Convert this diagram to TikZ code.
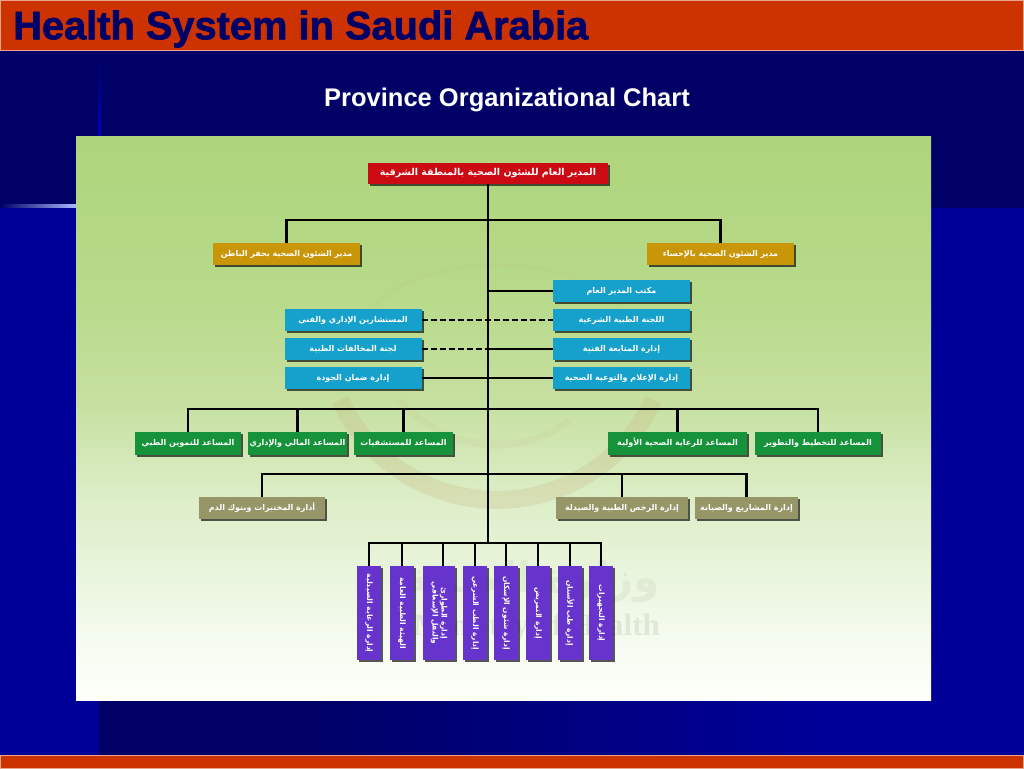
\documentclass[tikz,border=0pt]{standalone}
\usepackage{fontspec}
\setmainfont{Liberation Sans}
\newfontfamily\arabicfont[Script=Arabic]{DejaVu Sans}
\newfontfamily\markfont{Liberation Serif}
\newfontfamily\titlefont[BoldFeatures={FakeBold=1.5}]{Liberation Sans}
\TeXXeTstate=1
\usetikzlibrary{positioning, shadows}
\newcommand{\artext}[1]{\beginR #1\endR}

\definecolor{navydeep}{HTML}{000066}
\definecolor{navylight}{HTML}{000099}
\definecolor{glowblue}{HTML}{2F62F0}
\definecolor{glowend}{HTML}{A8B8FF}
\definecolor{barred}{HTML}{CC3300}
\definecolor{barline}{HTML}{E8A58A}
\definecolor{toprole}{HTML}{CC0A14}
\definecolor{goldrole}{HTML}{C89608}
\definecolor{bluerole}{HTML}{16A0CC}
\definecolor{greenrole}{HTML}{16933A}
\definecolor{olverole}{HTML}{969668}
\definecolor{purprole}{HTML}{6633CC}
\definecolor{emblem}{HTML}{C9B37F}
\definecolor{markgrey}{HTML}{C8D4BC}
\definecolor{panela}{HTML}{AED47C}
\definecolor{panelb}{HTML}{B8DA8A}
\definecolor{panelc}{HTML}{C6E0A0}
\definecolor{paneld}{HTML}{DDEEC8}
\definecolor{panele}{HTML}{F5FBF0}
\definecolor{panelf}{HTML}{FEFFFA}

\pgfdeclareverticalshading{greenfade}{100bp}{
  color(0bp)=(panelf);
  color(25bp)=(panelf);
  color(30.3bp)=(panele);
  color(42.7bp)=(paneld);
  color(51.5bp)=(panelc);
  color(60.5bp)=(panelb);
  color(75bp)=(panela);
  color(100bp)=(panela)}

\begin{document}
\begin{tikzpicture}[
  x=1pt, y=-1pt,
  box/.style={rectangle, text=white, inner sep=0pt, outer sep=0pt, align=center,
    font=\arabicfont\bfseries\fontsize{8}{9}\selectfont,
    drop shadow={shadow xshift=2pt, shadow yshift=-2pt, fill=black, opacity=.65}},
  flatbox/.style={box, text height=6pt, text depth=2pt},
  topbox/.style={flatbox, fill=toprole, minimum width=240pt, minimum height=21pt,
    font=\arabicfont\bfseries\fontsize{9.5}{11}\selectfont},
  goldbox/.style={flatbox, fill=goldrole, minimum width=147pt, minimum height=22pt},
  bluebox/.style={flatbox, fill=bluerole, minimum width=137pt, minimum height=22pt},
  greenbox/.style={flatbox, fill=greenrole, minimum height=23pt},
  olivebox/.style={flatbox, fill=olverole, minimum height=22pt},
  purplebox/.style={box, fill=purprole, minimum width=24pt, minimum height=94pt,
    font=\arabicfont\bfseries\fontsize{7.5}{9}\selectfont},
  link/.style={draw=black, line width=2.2pt},
  dashlink/.style={link, dash pattern=on 6pt off 3pt}
]
\useasboundingbox (0,0) rectangle (1024,768);

% === SLIDE BACKGROUND ===
\fill[navydeep] (0,0) rectangle (1024,768);
\fill[navylight] (0,208) rectangle (99,755);
\fill[navylight] (931,208) rectangle (1024,755);
\shade[left color=navydeep, right color=navylight] (300,700) rectangle (830,755);
\fill[navylight] (830,700) rectangle (1024,755);
\shade[left color=navydeep, middle color=glowblue, right color=glowend] (0,204.5) rectangle (76,207.5);
\shade[top color=navydeep, bottom color=blue!60!navydeep] (98,55) rectangle (100.5,136);
\draw[barline, fill=barred, line width=1pt] (0.5,0.5) rectangle (1023.5,51);
\draw[barline, fill=barred, line width=1pt] (0.5,755) rectangle (1023.5,768);

\node[anchor=west, inner sep=0pt, text=navydeep, font=\titlefont\bfseries\fontsize{39.8}{42}\selectfont] (title) at (13,29) {Health System in Saudi Arabia};
\node[text=white, inner sep=0pt, font=\bfseries\fontsize{25.5}{28}\selectfont] (subtitle) at (507,100) {Province Organizational Chart};

% === CHART PANEL ===
\fill[shading=greenfade] (76,136) rectangle (931,700);

% === WATERMARK ===
\draw[emblem, opacity=.25, line width=18pt] (340,400) arc[start angle=155, end angle=25, radius=173];
\draw[emblem, opacity=.1, line width=3pt] (372,310) .. controls (420,250) and (570,250) .. (625,310);
\draw[emblem, opacity=.1, line width=7pt] (400,400) .. controls (440,450) and (520,460) .. (570,420);
\node[anchor=east, inner sep=0pt, text=markgrey, opacity=.3, font=\arabicfont\bfseries\fontsize{42}{44}\selectfont] (markar) at (660,582) {\artext{وزارة الصحة}};
\node[anchor=east, inner sep=0pt, text=markgrey, opacity=.45, font=\markfont\bfseries\fontsize{31}{33}\selectfont] (markla) at (660,628) {Ministry of Health};

% === TOP LEVEL ===
\node[topbox] (top) at (488,173.5) {\artext{المدير العام للشئون الصحية بالمنطقة الشرقية}};
\node[goldbox] (goldleft) at (286.5,254) {\artext{مدير الشئون الصحية بحفر الباطن}};
\node[goldbox] (goldright) at (720.5,254) {\artext{مدير الشئون الصحية بالإحساء}};

% === STAFF OFFICES ===
\node[bluebox] (office) at (621.5,291) {\artext{مكتب المدير العام}};
\node[bluebox, below=7pt of office] (legal) {\artext{اللجنة الطبية الشرعية}};
\node[bluebox, below=7pt of legal] (followup) {\artext{إدارة المتابعة الفنية}};
\node[bluebox, below=7pt of followup] (media) {\artext{إدارة الإعلام والتوعية الصحية}};
\node[bluebox] (advisor) at (353,320) {\artext{المستشارين الإداري والفني}};
\node[bluebox, below=7pt of advisor] (violation) {\artext{لجنة المخالفات الطبية}};
\node[bluebox, below=7pt of violation] (quality) {\artext{إدارة ضمان الجودة}};

% === ASSISTANTS ===
\node[greenbox, minimum width=106pt] (supply) at (188,443.5) {\artext{المساعد للتموين الطبي}};
\node[greenbox, minimum width=99pt, right=7pt of supply] (finance) {\artext{المساعد المالي والإداري}};
\node[greenbox, minimum width=99pt, right=7pt of finance] (hospital) {\artext{المساعد للمستشفيات}};
\node[greenbox, minimum width=139pt] (primary) at (677.5,443.5) {\artext{المساعد للرعاية الصحية الأولية}};
\node[greenbox, minimum width=126pt, right=8pt of primary] (planning) {\artext{المساعد للتخطيط والتطوير}};

% === DEPARTMENTS ===
\node[olivebox, minimum width=126pt] (labs) at (262,508) {\artext{أدارة المختبرات وبنوك الدم}};
\node[olivebox, minimum width=132pt] (licence) at (622,508) {\artext{إدارة الرخص الطبية والصيدلة}};
\node[olivebox, minimum width=103pt, right=7pt of licence] (projects) {\artext{إدارة المشاريع والصيانة}};

% === VERTICAL BOXES ===
\node[purplebox] (pura) at (369,613) {\rotatebox{-90}{\artext{إدارة الرعاية الصيدلية}}};
\node[purplebox, right=9pt of pura] (purb) {\rotatebox{-90}{\artext{الهيئة الطبية العامة}}};
\node[purplebox, minimum width=32pt, right=9pt of purb] (purc) {\rotatebox{-90}{\begin{tabular}{@{}c@{}}\artext{إدارة الطوارئ}\\\artext{والنقل الإسعافي}\end{tabular}}};
\node[purplebox, right=8pt of purc] (purd) {\rotatebox{-90}{\artext{إدارة الطب الشرعي}}};
\node[purplebox, right=7pt of purd] (pure) {\rotatebox{-90}{\artext{إدارة شئون الإسكان}}};
\node[purplebox, right=8pt of pure] (purf) {\rotatebox{-90}{\artext{إدارة التمريض}}};
\node[purplebox, right=8pt of purf] (purg) {\rotatebox{-90}{\artext{إدارة طب الأسنان}}};
\node[purplebox, right=7pt of purg] (purh) {\rotatebox{-90}{\artext{إدارة التجهيزات}}};

% === JUNCTIONS ===
\coordinate (busa) at (488,220);
\coordinate (busb) at (488,409);
\coordinate (busc) at (488,474);
\coordinate (busd) at (488,543);
\coordinate (gapmid) at (top |- violation);

% === CONNECTORS ===
\draw[link] (top) -- (busd);
\draw[link] (busa) -| (goldleft);
\draw[link] (busa) -| (goldright);

\draw[link] (top |- office) -- (office);
\draw[dashlink] (advisor) -- (legal);
\draw[dashlink] (violation) -- (gapmid);
\draw[link] (gapmid) -- (followup);
\draw[link] (quality) -- (media);

\draw[link] (busb) -| (supply);
\draw[link] (busb) -| (finance);
\draw[link] (busb) -| (hospital);
\draw[link] (busb) -| (primary);
\draw[link] (busb) -| (planning);

\draw[link] (busc) -| (labs);
\draw[link] (busc) -| (licence);
\draw[link] (busc) -| (projects);

\draw[link] (busd) -| (pura);
\draw[link] (busd) -| (purb);
\draw[link] (busd) -| ([xshift=4pt]purc.north);
\draw[link] (busd) -| (purd);
\draw[link] (busd) -| (pure);
\draw[link] (busd) -| (purf);
\draw[link] (busd) -| (purg);
\draw[link] (busd) -| (purh);

\end{tikzpicture}
\end{document}
